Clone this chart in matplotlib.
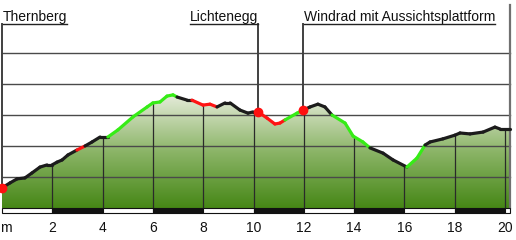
import numpy as np
import matplotlib
matplotlib.use("Agg")
import matplotlib.pyplot as plt
from matplotlib.colors import LinearSegmentedColormap
from matplotlib.patches import Polygon, Rectangle

plt.rcParams['font.family'] = ['Liberation Sans', 'DejaVu Sans']

# profile: distance (km), elevation (m), colour of the segment starting at each point
dist_km = [0.00, 0.32, 0.60, 0.91, 1.19, 1.51, 1.79, 1.99, 2.19, 2.39, 2.62, 2.98,
           3.30, 3.58, 3.90, 4.21, 4.61, 5.21, 5.77, 6.00, 6.28, 6.56, 6.80, 6.96,
           7.36, 7.55, 7.99, 8.27, 8.55, 8.87, 9.07, 9.46, 9.78, 9.98, 10.18, 10.54,
           10.85, 11.05, 11.25, 11.73, 11.97, 12.25, 12.56, 12.84, 13.12, 13.64, 13.96,
           14.35, 14.63, 15.15, 15.55, 16.10, 16.50, 16.82, 17.02, 17.53, 18.01, 18.21,
           18.61, 19.13, 19.60, 19.80, 20.20]
elev_m = [465, 481, 494, 497, 513, 532, 539, 539, 548, 555, 571, 587,
          600, 613, 629, 629, 652, 694, 726, 739, 742, 761, 765, 758,
          748, 748, 732, 735, 726, 739, 739, 716, 706, 710, 710, 690,
          671, 674, 684, 706, 716, 726, 735, 726, 700, 674, 632,
          613, 594, 577, 555, 532, 561, 603, 613, 623, 635, 642,
          639, 645, 661, 655, 655]
seg_col = list("kkkkkkkkkkkr" "kkkggggggggk" "krrrkkkkkkrr" "rrggkkkkggg" "gkkkggkkkkk" "kkkk")

waypoints = ["Thernberg", "Lichtenegg", "Windrad mit Aussichtsplattform"]
waypoint_km = [0.0, 10.18, 11.97]
waypoint_align = ["left", "right", "left"]

tick_km = [0, 2, 4, 6, 8, 10, 12, 14, 16, 18, 20]
tick_labels = ["m", "2", "4", "6", "8", "10", "12", "14", "16", "18", "20"]
grid_m = [500, 600, 700, 800, 900]

colours = {"k": "#1c1c1c", "r": "#ff1414", "g": "#36ec16"}

fig = plt.figure(figsize=(5.16, 2.40), dpi=100)
ax = fig.add_axes([0, 0, 1, 1])
ax.set_xlim(-0.0795, 20.437)
ax.set_ylim(296.8, 1071.0)
ax.axis("off")

x = np.array(dist_km)
y = np.array(elev_m)
base = 400

# gradient fill under the profile
cmap = LinearSegmentedColormap.from_list("terrain", ["#468716", "#8cb568", "#e6ecdb"])
grad = np.linspace(0, 1, 256).reshape(-1, 1)
img = ax.imshow(grad, cmap=cmap, origin="lower", aspect="auto",
                extent=(x[0], x[-1], base, y.max()), zorder=1)
poly = Polygon(np.column_stack([np.r_[x[0], x, x[-1]], np.r_[base, y, base]]),
               closed=True, facecolor="none", edgecolor="none")
ax.add_patch(poly)
img.set_clip_path(poly)

# grid
for g in grid_m:
    ax.plot([x[0], x[-1]], [g, g], color="#4a4a4a", lw=1.0, zorder=2)
for t in tick_km[1:]:
    ax.plot([t, t], [base, np.interp(t, x, y)], color="#2a2a2a", lw=0.9, zorder=2)
ax.plot([x[-1], x[-1]], [1055, base], color="#707070", lw=1.6, zorder=2)

# waypoint markers and labels
top = 993.5
for name, km, ha in zip(waypoints, waypoint_km, waypoint_align):
    ax.plot([km, km], [top, np.interp(km, x, y)], color="#404040", lw=1.4, zorder=3)
    ax.text(km + (0.04 if ha == "left" else 0.0), 1004, name, ha=ha, va="baseline",
            fontsize=10, color="#111111", zorder=5)
fig.canvas.draw()
inv = ax.transData.inverted()
for t in ax.texts:
    bb = t.get_window_extent()
    (x0, _), (x1, _) = inv.transform([[bb.x0, 0], [bb.x1, 0]])
    ax.plot([x0, x1], [top, top], color="#222222", lw=1.0, zorder=5)

# profile line
for i in range(len(x) - 1):
    ax.plot(x[i:i + 2], y[i:i + 2], color=colours[seg_col[i]], lw=2.3,
            solid_capstyle="round", zorder=4)
ax.plot(waypoint_km, np.interp(waypoint_km, x, y), "o", color="#ff1010",
        ms=6, zorder=6)

# scale bar
for i in range(len(tick_km)):
    left = tick_km[i]
    right = tick_km[i + 1] if i + 1 < len(tick_km) else x[-1]
    fc = "#111111" if i % 2 == 1 else "white"
    ax.add_patch(Rectangle((left, 384), right - left, 16, facecolor=fc,
                           edgecolor="#111111", lw=0.8, zorder=3))

for t, lab in zip(tick_km, tick_labels):
    if t == 0:
        ax.text(-0.06, 335.5, lab, ha="left", va="center", fontsize=10, color="#111111")
    else:
        ax.text(t, 335.5, lab, ha="center", va="center", fontsize=10, color="#111111")

fig.savefig("out.png", dpi=100)
